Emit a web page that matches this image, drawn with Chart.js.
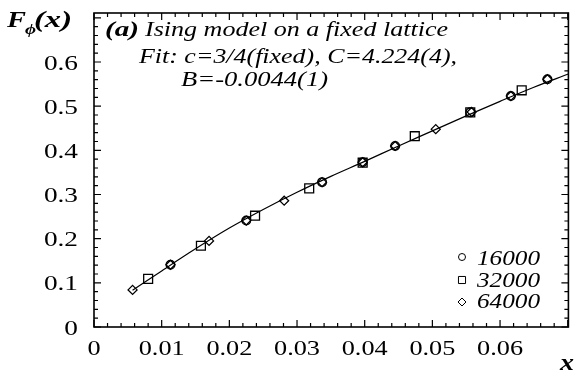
<!DOCTYPE html>
<html>
<head>
<meta charset="utf-8">
<script src="https://cdn.jsdelivr.net/npm/chart.js@4/dist/chart.umd.min.js"></script>
<style>
  html, body { margin: 0; padding: 0; background: #fff; }
  #wrap { width: 576px; height: 376px; }
</style>
</head>
<body>
<div id="wrap"><canvas id="myChart" width="576" height="376"></canvas></div>
<script>
// data
const xTicks = [0, 0.01, 0.02, 0.03, 0.04, 0.05, 0.06]
const xTickLabels = ["0", "0.01", "0.02", "0.03", "0.04", "0.05", "0.06"]
const yTicks = [0, 0.1, 0.2, 0.3, 0.4, 0.5, 0.6]
const yTickLabels = ["0", "0.1", "0.2", "0.3", "0.4", "0.5", "0.6"]

const x16000 = [0.0113, 0.0225, 0.0337, 0.0397, 0.0445, 0.0556, 0.0616, 0.0670]
const y16000 = [0.141, 0.241, 0.328, 0.373, 0.410, 0.486, 0.523, 0.561]
const x32000 = [0.0080, 0.0158, 0.0238, 0.0318, 0.0397, 0.0474, 0.0556, 0.0632]
const y32000 = [0.109, 0.184, 0.252, 0.314, 0.372, 0.432, 0.486, 0.536]
const x64000 = [0.0057, 0.0113, 0.0170, 0.0225, 0.0281, 0.0337, 0.0397, 0.0445, 0.0505, 0.0558, 0.0616, 0.0670]
const y64000 = [0.084, 0.141, 0.195, 0.241, 0.286, 0.328, 0.373, 0.410, 0.448, 0.487, 0.523, 0.561]

const xFit = [0.0057, 0.010, 0.015, 0.020, 0.025, 0.030, 0.035, 0.040, 0.045, 0.050, 0.055, 0.060, 0.065, 0.0701]
const yFit = [0.083, 0.127, 0.177, 0.224, 0.266, 0.305, 0.341, 0.375, 0.410, 0.444, 0.478, 0.511, 0.543, 0.573]

const seriesNames = ["16000", "32000", "64000"]
const annotationLines = ["Ising model on a fixed lattice", "Fit: c=3/4(fixed), C=4.224(4),", "B=-0.0044(1)"]

function pts(xs, ys) {
  return xs.map((x, i) => ({ x: x, y: ys[i] }))
}

const serif = "'Liberation Serif', 'DejaVu Serif', serif"

// the scanned figure has wide type, so stretch text sideways
function wideText(ctx, str, x, y, sx, align) {
  ctx.save()
  ctx.translate(x, y)
  ctx.scale(sx, 1)
  ctx.textAlign = align || 'left'
  ctx.fillText(str, 0, 0)
  ctx.restore()
}
function fitText(ctx, str, x, y, width) {
  const w = ctx.measureText(str).width
  wideText(ctx, str, x, y, width / w, 'left')
}

// frame with inward ticks on all four sides, labels and text
const framePlugin = {
  id: 'frame',
  afterDraw(chart) {
    const ctx = chart.ctx
    const a = chart.chartArea
    const xs = chart.scales.x
    const ys = chart.scales.y
    ctx.save()
    ctx.strokeStyle = '#000'
    ctx.lineWidth = 1.6
    ctx.strokeRect(a.left, a.top, a.right - a.left, a.bottom - a.top)
    ctx.lineWidth = 1.2
    ctx.beginPath()
    for (let k = 0; k <= 35; k++) {
      const px = xs.getPixelForValue(k * 0.002)
      if (px < a.left - 0.5 || px > a.right + 0.5) continue
      const len = (k % 5 === 0) ? 7 : 4
      ctx.moveTo(px, a.bottom); ctx.lineTo(px, a.bottom - len)
      ctx.moveTo(px, a.top); ctx.lineTo(px, a.top + len)
    }
    for (let k = 0; k <= 35; k++) {
      const py = ys.getPixelForValue(k * 0.02)
      if (py < a.top - 0.5 || py > a.bottom + 0.5) continue
      const len = (k % 5 === 0) ? 7 : 4
      ctx.moveTo(a.left, py); ctx.lineTo(a.left + len, py)
      ctx.moveTo(a.right, py); ctx.lineTo(a.right - len, py)
    }
    ctx.stroke()

    ctx.fillStyle = '#000'
    ctx.textBaseline = 'alphabetic'

    // tick labels
    ctx.font = "21px " + serif
    xTicks.forEach((v, i) => wideText(ctx, xTickLabels[i], xs.getPixelForValue(v), 355, 1.25, 'center'))
    yTicks.forEach((v, i) => wideText(ctx, yTickLabels[i], 78, ys.getPixelForValue(v) + 7.5, 1.3, 'right'))

    // annotation
    ctx.font = "bold italic 21px " + serif
    fitText(ctx, "(a)", 105, 36, 34)
    ctx.font = "italic 21px " + serif
    fitText(ctx, annotationLines[0], 145, 36, 303)
    fitText(ctx, annotationLines[1], 139, 63, 318)
    fitText(ctx, annotationLines[2], 181, 86, 147)

    // axis titles
    ctx.font = "bold italic 23px " + serif
    fitText(ctx, "F", 7, 27, 19)
    ctx.font = "bold italic 15px " + serif
    fitText(ctx, "\u03D5", 25, 34, 11)
    ctx.font = "bold italic 23px " + serif
    fitText(ctx, "(x)", 34, 27, 38)
    fitText(ctx, "x", 560, 370, 14)

    // legend
    const ds = chart.data.datasets.slice(1)
    const symR = [3.5, 5, 4]
    ds.forEach((d, i) => {
      const sy = [257, 280, 302][i]
      ctx.lineWidth = 1
      ctx.strokeStyle = '#000'
      ctx.fillStyle = '#fff'
      Chart.helpers.drawPoint(ctx, { pointStyle: d.pointStyle, radius: symR[i], rotation: 0, borderWidth: 1 }, 462, sy)
      ctx.fillStyle = '#000'
      ctx.font = "italic 21px " + serif
      fitText(ctx, seriesNames[i], 477, [265, 287, 308][i], 63)
    })
    ctx.restore()
  }
}

const ctx = document.getElementById('myChart')
new Chart(ctx, {
  type: 'scatter',
  data: {
    datasets: [
      {
        label: 'fit',
        data: pts(xFit, yFit),
        showLine: true,
        borderColor: '#000',
        borderWidth: 1.2,
        pointRadius: 0,
        cubicInterpolationMode: 'monotone'
      },
      {
        label: seriesNames[0],
        data: pts(x16000, y16000),
        pointStyle: 'circle',
        pointRadius: 4.3,
        borderColor: '#000',
        borderWidth: 1.4,
        backgroundColor: 'rgba(0,0,0,0)'
      },
      {
        label: seriesNames[1],
        data: pts(x32000, y32000),
        pointStyle: 'rect',
        pointRadius: 6.3,
        borderColor: '#000',
        borderWidth: 1.3,
        backgroundColor: 'rgba(0,0,0,0)'
      },
      {
        label: seriesNames[2],
        data: pts(x64000, y64000),
        pointStyle: 'rectRot',
        pointRadius: 4.5,
        borderColor: '#000',
        borderWidth: 1.3,
        backgroundColor: 'rgba(0,0,0,0)'
      }
    ]
  },
  options: {
    responsive: false,
    animation: false,
    layout: { padding: { top: 13, right: 2, left: 0, bottom: 0 } },
    plugins: { legend: { display: false }, tooltip: { enabled: false } },
    scales: {
      x: {
        type: 'linear',
        min: 0,
        max: 0.0701,
        grid: { display: false },
        border: { display: false },
        ticks: { display: false },
        afterFit: (s) => { s.height = 49 }
      },
      y: {
        type: 'linear',
        min: 0,
        max: 0.711,
        grid: { display: false },
        border: { display: false },
        ticks: { display: false },
        afterFit: (s) => { s.width = 94 }
      }
    }
  },
  plugins: [framePlugin]
})
</script>
</body>
</html>
